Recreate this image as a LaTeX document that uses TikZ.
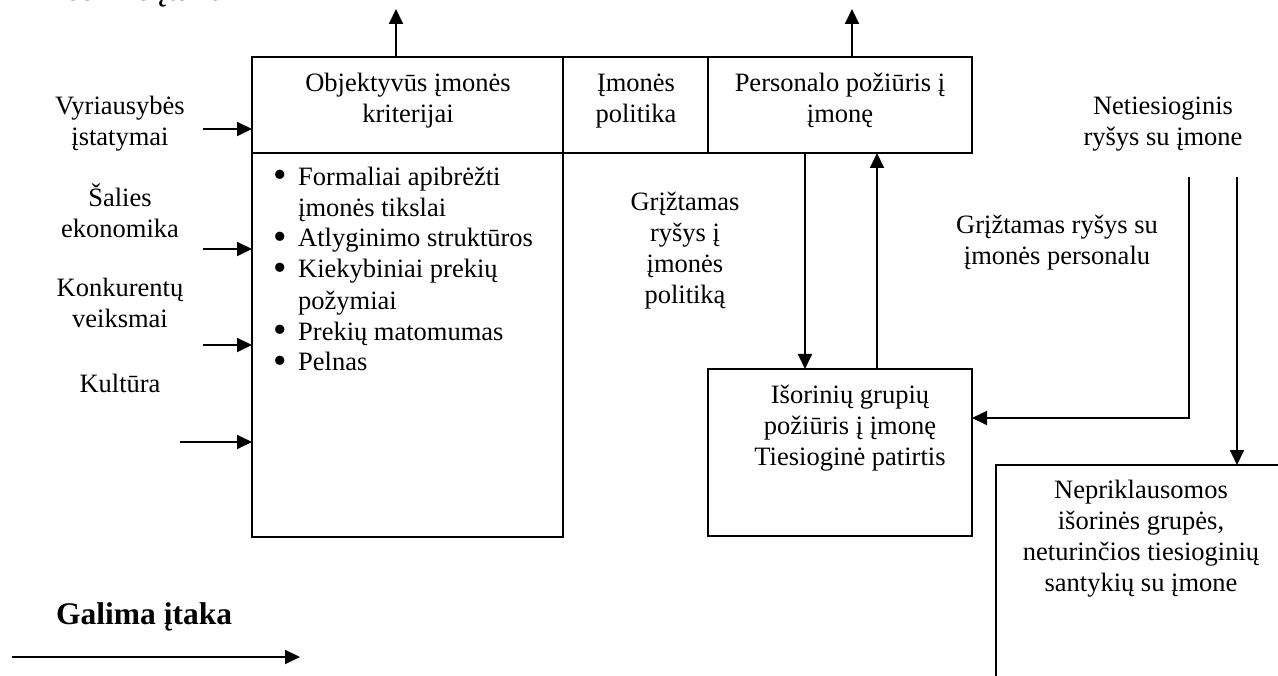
\documentclass[tikz,border=0pt]{standalone}
\usepackage{fontspec}
\setmainfont{Liberation Serif}
\usetikzlibrary{arrows.meta}
\newcommand{\bul}{\makebox[25pt][l]{\raisebox{-2.5pt}{\scalebox{1.45}{•}}}}
\newcommand{\cont}{\hspace*{25pt}}
\begin{document}
\begin{tikzpicture}[x=1pt,y=-1pt,
  lbl/.style={font=\fontsize{26.5}{31}\selectfont, align=center, anchor=base, inner sep=0pt},
  lst/.style={font=\fontsize{26.5}{31}\selectfont, align=left, anchor=base west, inner sep=0pt},
  ttl/.style={font=\fontsize{31.5}{36}\selectfont\bfseries, anchor=base west, inner sep=0pt},
  cell/.style={draw, line width=1.9pt, anchor=north west, inner sep=0pt, outer sep=0pt},
  link/.style={line width=1.9pt, -{Triangle[length=15pt,width=14pt]}},
]
\useasboundingbox (0,0) rectangle (1278,676);
\clip (0,0) rectangle (1278,676);

% boxes
\node[cell, minimum width=311pt, minimum height=96pt] (obj)  at (252,57) {};
\node[cell, minimum width=145pt, minimum height=96pt] (pol)  at (563,57) {};
\node[cell, minimum width=264pt, minimum height=96pt] (pers) at (708,57) {};
\node[cell, minimum width=311pt, minimum height=384pt] (lst) at (252,153) {};
\node[cell, minimum width=264pt, minimum height=167pt] (isor) at (708,369) {};
\node[cell, minimum width=400pt, minimum height=300pt] (nepr) at (996,465) {};

% headings (multi-line texts are placed by the baseline of their last line)
\node[ttl] (hout) at (55,1) {Išorinė įtaka};
\node[ttl] (hpos) at (56,624) {Galima įtaka};

% texts in the top row
\node[lbl] (tobj)  at (408,123) {Objektyvūs įmonės\\kriterijai};
\node[lbl] (tpol)  at (636,123) {Įmonės\\politika};
\node[lbl] (tpers) at (840,123) {Personalo požiūris į\\įmonę};

% list of criteria
\node[lst] (tlist) at (273,371) {%
\bul Formaliai apibrėžti\\
\cont įmonės tikslai\\
\bul Atlyginimo struktūros\\
\bul Kiekybiniai prekių\\
\cont požymiai\\
\bul Prekių matomumas\\
\bul Pelnas};

% outside influences
\node[lbl] (gov)  at (120,146) {Vyriausybės\\įstatymai};
\node[lbl] (econ) at (120,238) {Šalies\\ekonomika};
\node[lbl] (comp) at (120,328) {Konkurentų\\veiksmai};
\node[lbl] (cult) at (120,392) {Kultūra};

% other labels
\node[lbl] (fbpol)  at (685,304) {Grįžtamas\\ryšys į\\įmonės\\politiką};
\node[lbl] (indir)  at (1163,146) {Netiesioginis\\ryšys su įmone};
\node[lbl] (fbpers) at (1057,265) {Grįžtamas ryšys su\\įmonės personalu};
\node[lbl] (tisor)  at (850,465) {Išorinių grupių\\požiūris į įmonę\\Tiesioginė patirtis};
\node[lbl] (tnepr)  at (1141,591) {Nepriklausomos\\išorinės grupės,\\neturinčios tiesioginių\\santykių su įmone};

% free ends of connectors
\coordinate (up1) at (396,9);
\coordinate (up2) at (852,9);
\coordinate (in1) at (203,129);
\coordinate (in2) at (203,249);
\coordinate (in3) at (203,345);
\coordinate (in4) at (180,442);
\coordinate (dn)  at (805,0);
\coordinate (upf) at (877,0);
\coordinate (ind1) at (1189,177);
\coordinate (ind1b) at (1189,418);
\coordinate (ind2) at (1237,177);
\coordinate (lg1) at (12,657);
\coordinate (lg2) at (300,657);

% connectors
\draw[link] (up1 |- obj.north) -- (up1);
\draw[link] (up2 |- pers.north) -- (up2);
\draw[link] (in1) -- (in1 -| obj.west);
\draw[link] (in2) -- (in2 -| lst.west);
\draw[link] (in3) -- (in3 -| lst.west);
\draw[link] (in4) -- (in4 -| lst.west);
\draw[link] (dn |- pers.south) -- (dn |- isor.north);
\draw[link] (upf |- isor.north) -- (upf |- pers.south);
\draw[link] (ind1) -- (ind1b) -- (ind1b -| isor.east);
\draw[link] (ind2) -- (ind2 |- nepr.north);
\draw[link] (lg1) -- (lg2);
\end{tikzpicture}
\end{document}
